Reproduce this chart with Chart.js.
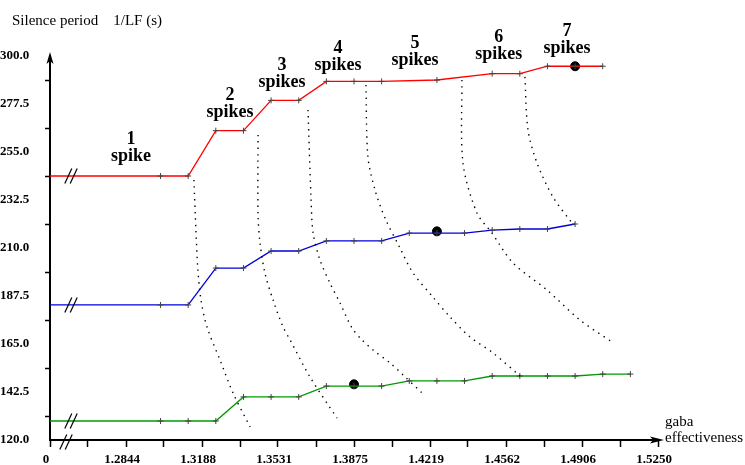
<!DOCTYPE html>
<html>
<head>
<meta charset="utf-8">
<script src="https://cdn.jsdelivr.net/npm/chart.js@4.4.1/dist/chart.umd.min.js"></script>
<style>
  html, body { margin: 0; padding: 0; background: #fff; }
  #wrap { width: 745px; height: 465px; }
</style>
</head>
<body>
<div id="wrap"><canvas id="myChart" width="745" height="465"></canvas></div>
<script>
// 축 눈금 라벨 (x 원점은 "0"으로 표시, 축이 끊겨 있음)
const xTickLabels = ["0", "1.2844", "1.3188", "1.3531", "1.3875", "1.4219", "1.4562", "1.4906", "1.5250"];
const yTickLabels = ["120.0", "142.5", "165.0", "187.5", "210.0", "232.5", "255.0", "277.5", "300.0"];

// 빨간 선
const redX = [1.25, 1.30, 1.3125, 1.325, 1.3375, 1.35, 1.3625, 1.375, 1.3875, 1.40, 1.425, 1.45, 1.4625, 1.475, 1.4875, 1.50];
const redY = [243.75, 243.75, 243.75, 265.0, 265.0, 279.2, 279.2, 288.1, 288.1, 288.1, 288.75, 291.7, 291.7, 295.2, 295.2, 295.2];

// 파란 선
const blueX = [1.25, 1.30, 1.3125, 1.325, 1.3375, 1.35, 1.3625, 1.375, 1.3875, 1.40, 1.4125, 1.425, 1.4375, 1.45, 1.4625, 1.475, 1.4875];
const blueY = [183.3, 183.3, 183.3, 200.6, 200.6, 208.6, 208.6, 213.3, 213.3, 213.3, 217.0, 217.0, 217.0, 218.4, 218.9, 218.9, 221.25];

// 초록 선
const greenX = [1.25, 1.30, 1.3125, 1.325, 1.3375, 1.35, 1.3625, 1.375, 1.3875, 1.40, 1.4125, 1.425, 1.4375, 1.45, 1.4625, 1.475, 1.4875, 1.50, 1.5125];
const greenY = [128.9, 128.9, 128.9, 128.9, 140.2, 140.2, 140.2, 145.3, 145.3, 145.3, 147.7, 147.7, 147.7, 150.0, 150.0, 150.0, 150.0, 150.9, 150.9];

// 큰 검은 점
const markX = [1.4875, 1.425, 1.3875];
const markY = [295.2, 217.8, 146.1];

// 점선 경계 (스파이크 수가 바뀌는 곳)
const bound1X = [1.3151, 1.3160, 1.3169, 1.3183, 1.3210, 1.3269, 1.3328, 1.3405];
const bound1Y = [241.9, 218.4, 199.7, 185.6, 173.0, 157.5, 142.0, 126.1];
const bound2X = [1.3441, 1.3441, 1.3450, 1.3472, 1.3509, 1.3554, 1.3586, 1.3676, 1.3798];
const bound2Y = [263.0, 225.5, 212.3, 198.3, 185.6, 173.0, 166.9, 149.5, 130.3];
const bound3X = [1.3667, 1.3681, 1.3690, 1.3721, 1.3766, 1.3812, 1.3866, 1.3911, 1.3961, 1.4038, 1.4097, 1.4183];
const bound3Y = [274.7, 232.5, 217.0, 204.4, 193.6, 184.2, 172.5, 166.9, 162.2, 156.1, 150.5, 142.0];
const bound4X = [1.3929, 1.3938, 1.3970, 1.4015, 1.4083, 1.4142, 1.4232, 1.4309, 1.4400, 1.4504, 1.4626];
const bound4Y = [286.4, 252.7, 237.2, 224.1, 210.0, 198.3, 187.0, 177.7, 168.3, 160.8, 150.0];
const bound5X = [1.4363, 1.4368, 1.4431, 1.4499, 1.4594, 1.4748, 1.4897, 1.5042];
const bound5Y = [288.75, 249.8, 226.4, 217.0, 203.0, 190.3, 176.25, 165.9];
const bound6X = [1.4648, 1.4662, 1.4703, 1.4775, 1.4861];
const bound6Y = [290.2, 265.3, 249.8, 233.9, 221.7];

const spikeLabels = [["1", "spike"], ["2", "spikes"], ["3", "spikes"], ["4", "spikes"], ["5", "spikes"], ["6", "spikes"], ["7", "spikes"]];

function pts(xs, ys) {
  return xs.map(function (x, i) { return { x: x, y: ys[i] }; });
}

function seriesSet(xs, ys, color) {
  return {
    data: pts(xs, ys),
    borderColor: color,
    borderWidth: 1.3,
    pointStyle: "cross",
    pointRadius: function (c) { return c.dataIndex === 0 ? 0 : 3; },
    pointBorderColor: "#444",
    pointBorderWidth: 1,
    tension: 0,
    fill: false,
  };
}

function boundSet(xs, ys) {
  return {
    data: pts(xs, ys),
    borderColor: "#000",
    borderWidth: 1.4,
    borderDash: [1.4, 5],
    pointRadius: 0,
    tension: 0.3,
    fill: false,
  };
}

// 장식: 화살표, 끊김 표시, 글자
const decor = {
  id: "decor",
  afterDraw: function (chart) {
    const c = chart.ctx;
    const xs = chart.scales.x;
    const ys = chart.scales.y;
    const a = chart.chartArea;
    c.save();
    c.fillStyle = "#000";
    c.strokeStyle = "#000";

    // y축 화살표
    c.beginPath();
    c.moveTo(a.left, a.top - 4);
    c.lineTo(a.left - 3.5, a.top + 8);
    c.lineTo(a.left, a.top + 5);
    c.lineTo(a.left + 3.5, a.top + 8);
    c.closePath();
    c.fill();

    // x축 화살표
    c.lineWidth = 2;
    c.beginPath();
    c.moveTo(a.right - 2, a.bottom);
    c.lineTo(a.right + 2, a.bottom);
    c.stroke();
    c.beginPath();
    c.moveTo(a.right + 6, a.bottom);
    c.lineTo(a.right - 8, a.bottom - 3.5);
    c.lineTo(a.right - 5, a.bottom);
    c.lineTo(a.right - 8, a.bottom + 3.5);
    c.closePath();
    c.fill();

    // 끊김 표시 //
    function brk(cx, cy) {
      c.lineWidth = 1.2;
      [-2.7, 2.7].forEach(function (dx) {
        c.beginPath();
        c.moveTo(cx + dx - 3.5, cy + 7.5);
        c.lineTo(cx + dx + 3.5, cy - 7.5);
        c.stroke();
      });
    }
    const bx = xs.getPixelForValue(1.2595);
    brk(bx, ys.getPixelForValue(redY[0]));
    brk(bx, ys.getPixelForValue(blueY[0]));
    brk(bx, ys.getPixelForValue(greenY[0]));
    brk(bx - 5, a.bottom + 2);

    // 스파이크 라벨
    const lx = [1.2866, 1.3314, 1.3549, 1.3803, 1.4151, 1.4530, 1.4838];
    const ly = [261.1, 281.7, 295.8, 303.75, 306.1, 308.9, 311.7];
    c.font = "bold 18px 'Liberation Serif', serif";
    c.textAlign = "center";
    c.textBaseline = "middle";
    spikeLabels.forEach(function (t, i) {
      const px = xs.getPixelForValue(lx[i]);
      const py = ys.getPixelForValue(ly[i]);
      c.fillText(t[0], px, py);
      c.fillText(t[1], px, py + 17);
    });

    // 축 제목
    c.font = "15px 'Liberation Serif', serif";
    c.textAlign = "left";
    c.fillText("Silence period    1/LF (s)", 12, 21);
    c.fillText("gaba", a.right + 7, a.bottom - 18);
    c.fillText("effectiveness", a.right + 7, a.bottom - 2);
    c.restore();
  },
};

const ctx = document.getElementById("myChart").getContext("2d");
const myChart = new Chart(ctx, {
  type: "line",
  data: {
    datasets: [
      boundSet(bound1X, bound1Y),
      boundSet(bound2X, bound2Y),
      boundSet(bound3X, bound3Y),
      boundSet(bound4X, bound4Y),
      boundSet(bound5X, bound5Y),
      boundSet(bound6X, bound6Y),
      seriesSet(redX, redY, "#ff0000"),
      seriesSet(blueX, blueY, "#0000dd"),
      seriesSet(greenX, greenY, "#009a00"),
      {
        data: pts(markX, markY),
        showLine: false,
        pointRadius: 4.5,
        pointBackgroundColor: "#000",
        pointBorderColor: "#000",
      },
    ],
  },
  options: {
    responsive: false,
    animation: false,
    devicePixelRatio: 1,
    layout: { padding: { left: 0, top: 56, right: 87, bottom: 0 } },
    scales: {
      x: {
        type: "linear",
        min: 1.25,
        max: 1.525,
        afterBuildTicks: function (s) {
          const t = [];
          for (let k = 0; k <= 16; k++) t.push({ value: 1.25 + k * 0.0171875 });
          s.ticks = t;
        },
        afterFit: function (s) { s.height = 25; },
        ticks: {
          autoSkip: false,
          maxRotation: 0,
          padding: 5,
          labelOffset: -4,
          color: "#000",
          font: { family: "'Liberation Serif', serif", size: 13, weight: "bold" },
          callback: function (v, i) { return i % 2 === 0 ? xTickLabels[i / 2] : ""; },
        },
        grid: { drawOnChartArea: false, tickLength: 7, tickColor: "#000", tickWidth: 1.5 },
        border: { color: "#000", width: 2 },
      },
      y: {
        min: 120,
        max: 300,
        afterBuildTicks: function (s) {
          const t = [];
          for (let k = 0; k <= 16; k++) t.push({ value: 120 + k * 11.25 });
          s.ticks = t;
        },
        afterFit: function (s) { s.width = 50; },
        ticks: {
          autoSkip: false,
          crossAlign: "far",
          color: "#000",
          font: { family: "'Liberation Serif', serif", size: 13, weight: "bold" },
          callback: function (v, i) { return i % 2 === 0 ? yTickLabels[i / 2] : ""; },
        },
        grid: {
          drawOnChartArea: false,
          tickLength: 5,
          tickWidth: 1.5,
          tickColor: function (c) { return c.index % 2 === 1 ? "#000" : "rgba(0,0,0,0)"; },
        },
        border: { color: "#000", width: 2 },
      },
    },
    plugins: {
      legend: { display: false },
      tooltip: { enabled: false },
    },
  },
  plugins: [decor],
});
</script>
</body>
</html>
